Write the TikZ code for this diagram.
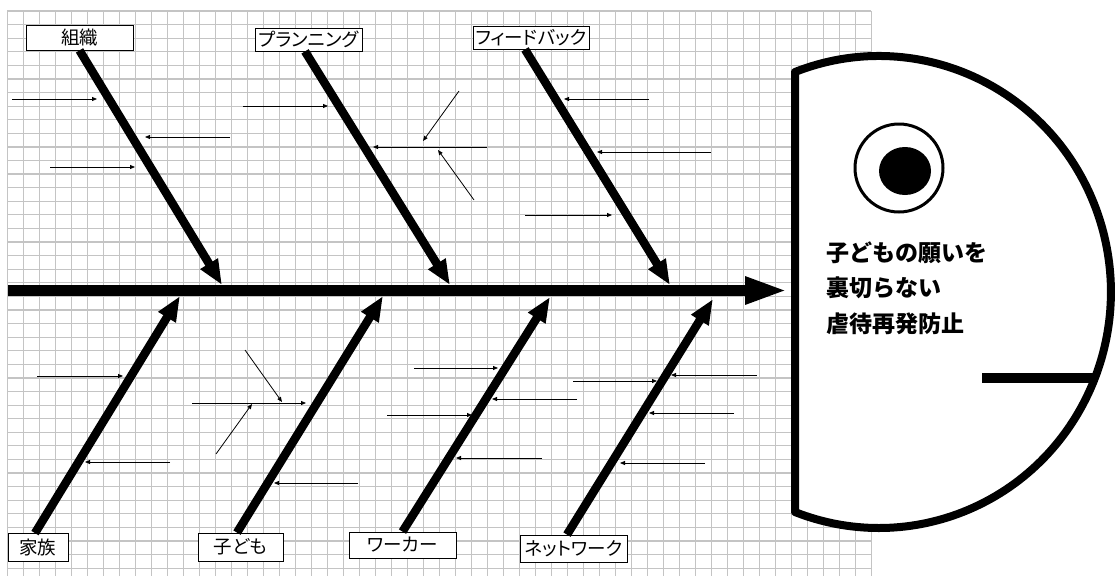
\documentclass[tikz,border=0pt]{standalone}
\usepackage{fontspec}
\newfontfamily\jpfont{Noto Sans CJK JP}[RawFeature=+palt]
\newfontfamily\jpheadfont{Noto Sans CJK JP}
\usepackage{xcolor}
\definecolor{gridgray}{HTML}{C4C4C4}
\usepackage{tikz}
\usetikzlibrary{
  arrows.meta,
  positioning,
  calc
}

\begin{document}
\begin{tikzpicture}[
  x=1pt, y=-1pt,
  gridline/.style={gridgray, line width=1.2},
  cause/.style={rectangle, draw, line width=0.8, fill=white, inner sep=0pt, font=\jpfont\fontsize{18.5}{18.5}\selectfont},
  spine/.style={line width=11, -{Triangle[length=43pt, width=25pt]}},
  bone/.style={line width=8.5, -{Triangle[length=25pt, width=19pt]}},
  twig/.style={line width=0.8, -{Triangle[length=5pt, width=4pt]}},
]
\useasboundingbox (0,0) rectangle (1117,576);

% Cuadricula
\foreach \i in {0,...,54}
  \draw[gridline] ({7.3+16*\i},11) -- ({7.3+16*\i},576);
\foreach \j in {0,...,41}
  \draw[gridline] (7.3,{11+13.59*\j}) -- (871.3,{11+13.59*\j});

% Cabeza
\draw[line width=8, line join=round, fill=white] (795,72)
  arc[start angle=-111.2, end angle=111.2, x radius=232, y radius=236] -- cycle;
\draw[line width=3] (899,168) circle[radius=44];
\fill (905,171) ellipse[x radius=26, y radius=24];
\coordinate (lip) at (982,378);
\coordinate (lipend) at (1097,378);
\draw[line width=10] (lip) -- (lipend);
\node[anchor=west, align=left, inner sep=0pt,
  font=\jpheadfont\bfseries\fontsize{23}{35.5}\selectfont] (goal) at (826,288)
  {子どもの願いを\\裏切らない\\虐待再発防止};

% Espina principal
\coordinate (tail) at (8,290.5);
\coordinate (mouth) at (788,290.5);
\draw[spine] (tail) -- (mouth);

% Etiquetas
\node[cause, minimum width=107, minimum height=25] (soshiki) at (79.5,37.5) {組織};
\node[cause, minimum width=107, minimum height=23] (planning) at (308.5,39.5) {プランニング};
\node[cause, minimum width=116, minimum height=23] (feedback) at (531,37.5) {フィードバック};
\node[cause, minimum width=60, minimum height=28] (kazoku) at (38,547.5) {家族};
\node[cause, minimum width=85, minimum height=28] (kodomo) at (240.5,547) {子ども};
\node[cause, minimum width=107, minimum height=26] (worker) at (402.5,545) {ワーカー};
\node[cause, minimum width=107, minimum height=27] (network) at (573.5,548.5) {ネットワーク};

% Espinas
\coordinate (t1) at (222,285);
\coordinate (t2) at (450,285);
\coordinate (t3) at (670,285);
\coordinate (b1) at (180,296);
\coordinate (b2) at (383,296);
\coordinate (b3) at (550,297);
\coordinate (b4) at (713,299);
\draw[bone] (soshiki.south) -- (t1);
\draw[bone] ([xshift=-3.5pt]planning.south) -- (t2);
\draw[bone] ([xshift=-6pt]feedback.south) -- (t3);
\draw[bone] ([xshift=-3pt]kazoku.north) -- (b1);
\draw[bone] ([xshift=-3.5pt]kodomo.north) -- (b2);
\draw[bone] (worker.north) -- (b3);
\draw[bone] ([xshift=-6.5pt]network.north) -- (b4);

% Flechas pequenas
\foreach \n/\xa/\ya/\xb/\yb in {
  1/12/99/97/99, 2/230/137/145/137, 3/50/167/135/167,
  4/243/106/328/106, 5/487/147/373/147, 6/459/91/423/141, 7/474/200/438/150,
  8/649/99/564/99, 9/711/152/597/152, 10/525/215/612/215,
  11/37/376/123/376, 12/170/462/85/462,
  13/192/403/306/403, 14/245/350/282/402, 15/216/454/252/404, 16/358/483/274/483,
  17/414/368/498/368, 18/577/399/492/399, 19/387/415/472/415, 20/542/458/456/458,
  21/573/381/657/381, 22/757/375/671/375, 23/734/413/649/413, 24/705/463/620/463} {
  \coordinate (r\n a) at (\xa,\ya);
  \coordinate (r\n b) at (\xb,\yb);
  \draw[twig] (r\n a) -- (r\n b);
}

\end{tikzpicture}
\end{document}
